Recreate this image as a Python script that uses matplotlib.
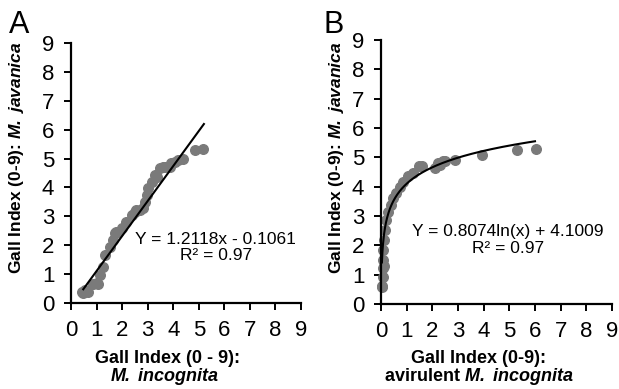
import matplotlib
matplotlib.use('Agg')
import numpy as np
import matplotlib.pyplot as plt

plt.rcParams['font.family'] = ['Liberation Sans', 'DejaVu Sans']
plt.rcParams['mathtext.fontset'] = 'custom'
plt.rcParams['mathtext.rm'] = 'Liberation Sans'
plt.rcParams['mathtext.it'] = 'Liberation Sans:italic'
plt.rcParams['mathtext.bf'] = 'Liberation Sans:bold'
plt.rcParams['mathtext.bfit'] = 'Liberation Sans:italic:bold'

# panel A: M. incognita vs M. javanica
a_x = [0.44, 0.48, 0.55, 0.68, 0.87, 1.0, 1.07, 1.13, 1.26, 1.33, 1.52, 1.65,
       1.72, 1.78, 1.85, 1.98, 2.17, 2.37, 2.5, 2.56, 2.7, 2.83, 2.89, 2.96,
       3.02, 3.15, 3.28, 3.35, 3.48, 3.6, 3.67, 3.87, 3.93, 4.06, 4.19, 4.39,
       4.84, 5.17]
a_y = [0.39, 0.36, 0.45, 0.39, 0.66, 0.68, 0.66, 0.97, 1.26, 1.66, 1.95, 2.18,
       2.41, 2.47, 2.47, 2.58, 2.81, 3.04, 3.16, 3.22, 3.22, 3.28, 3.5, 3.74,
       3.97, 4.2, 4.43, 4.37, 4.66, 4.72, 4.72, 4.72, 4.83, 4.89, 4.95, 5.0,
       5.29, 5.32]
a_slope, a_icpt = 1.2118, -0.1061
a_fit_range = [0.48, 5.2]

# panel B: avirulent M. incognita vs M. javanica
b_x = [0.03, 0.04, 0.06, 0.08, 0.12, 0.08, 0.08, 0.12, 0.14, 0.21, 0.27, 0.4,
       0.47, 0.6, 0.73, 0.86, 1.05, 1.25, 1.5, 1.6, 2.1, 2.22, 2.3, 2.42, 2.5,
       2.87, 3.93, 5.29, 6.04]
b_y = [0.62, 0.59, 0.93, 1.22, 1.28, 1.5, 1.84, 2.18, 2.53, 2.87, 3.15, 3.38,
       3.61, 3.78, 4.0, 4.17, 4.35, 4.46, 4.69, 4.69, 4.63, 4.8, 4.74, 4.86,
       4.86, 4.91, 5.08, 5.26, 5.28]
b_coef, b_icpt = 0.8074, 4.1009
b_fit_range = [0.036, 6.0]

dot_color = '#7a7a7a'

fig = plt.figure(figsize=(6.19, 3.89), dpi=100)
axA = fig.add_axes([0.1147, 0.2211, 0.3716, 0.6684])
axB = fig.add_axes([0.6155, 0.2185, 0.3732, 0.6787])

for ax in (axA, axB):
    ax.set_xlim(0, 9)
    ax.set_ylim(0, 9)
    ax.set_xticks(range(10))
    ax.set_yticks(range(10))
    ax.spines['top'].set_visible(False)
    ax.spines['right'].set_visible(False)
    for s in ('left', 'bottom'):
        ax.spines[s].set_linewidth(1.6)
    ax.tick_params(direction='out', length=5, width=1.4, labelsize=16, pad=7)

axA.scatter(a_x, a_y, s=48, color=dot_color, zorder=2, clip_on=False)
xa = np.array(a_fit_range)
axA.plot(xa, a_slope * xa + a_icpt, color='black', lw=1.5, zorder=3)
axA.text(5.66, 1.93, 'Y = 1.2118x - 0.1061\nR² = 0.97', ha='center', va='center',
         fontsize=12.5, linespacing=1.05)

axB.scatter(b_x, b_y, s=48, color=dot_color, zorder=2, clip_on=False)
xb = np.linspace(b_fit_range[0], b_fit_range[1], 300)
axB.plot(xb, b_coef * np.log(xb) + b_icpt, color='black', lw=1.5, zorder=3)
axB.text(4.95, 2.18, 'Y = 0.8074ln(x) + 4.1009\nR² = 0.97', ha='center', va='center',
         fontsize=12.5, linespacing=1.15)

# panel letters
fig.text(9 / 619, 1 - 33 / 389, 'A', fontsize=22, va='baseline', ha='left')
fig.text(324 / 619, 1 - 33 / 389, 'B', fontsize=22, va='baseline', ha='left')

# y labels
ylab = r'Gall Index (0-9): $\mathbfit{M.\ javanica}$'
fig.text(17 / 619, 1 - 158 / 389, ylab, rotation=90, fontsize=12.5,
         fontweight='bold', ha='center', va='center')
fig.text(337 / 619, 1 - 158 / 389, ylab, rotation=90, fontsize=12.5,
         fontweight='bold', ha='center', va='center')

# x labels
fig.text(168 / 619, 1 - 363 / 389, 'Gall Index (0 - 9):', fontsize=13,
         fontweight='bold', ha='center', va='baseline')
fig.text(165 / 619, 1 - 381 / 389, r'$\mathbfit{M.\ incognita}$', fontsize=13,
         ha='center', va='baseline')
fig.text(479 / 619, 1 - 363 / 389, 'Gall Index (0-9):', fontsize=13,
         fontweight='bold', ha='center', va='baseline')
fig.text(479 / 619, 1 - 381 / 389, r'avirulent $\mathbfit{M.\ incognita}$',
         fontsize=13, fontweight='bold', ha='center', va='baseline')

fig.savefig('out.png', dpi=100)
